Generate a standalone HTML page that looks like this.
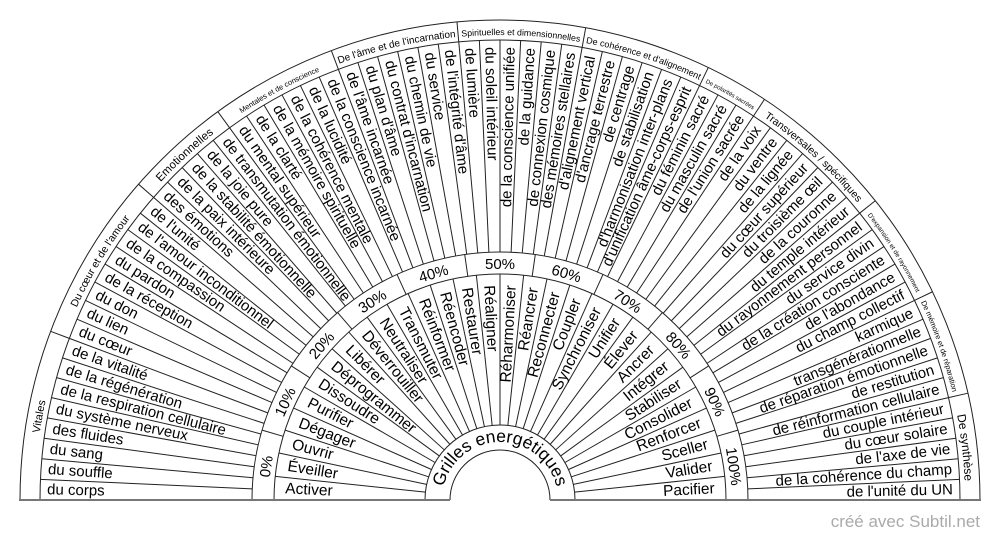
<!DOCTYPE html>
<html><head><meta charset="utf-8"><style>
html,body{margin:0;padding:0;background:#fff;}
svg{display:block;}
text{font-family:"Liberation Sans",Arial,sans-serif;fill:#000;}
</style></head><body>
<svg width="1000" height="540" viewBox="0 0 1000 540" xmlns="http://www.w3.org/2000/svg">
<defs>
<path id="c0" d="M35,500 A465,465 0 0 1 64.6,336.6"/>
<path id="c1" d="M64.6,336.6 A465,465 0 0 1 149.9,194.0"/>
<path id="c2" d="M149.9,194.0 A465,465 0 0 1 226.7,123.8"/>
<path id="c3" d="M226.7,123.8 A465,465 0 0 1 336.6,64.6"/>
<path id="c4" d="M336.6,64.6 A465,465 0 0 1 458.3,36.9"/>
<path id="c5" d="M458.3,36.9 A465,465 0 0 1 583.0,42.5"/>
<path id="c6" d="M583.0,42.5 A465,465 0 0 1 701.8,81.0"/>
<path id="c7" d="M701.8,81.0 A465,465 0 0 1 756.2,111.9"/>
<path id="c8" d="M756.2,111.9 A465,465 0 0 1 863.5,210.1"/>
<path id="c9" d="M863.5,210.1 A465,465 0 0 1 919.0,298.2"/>
<path id="c10" d="M919.0,298.2 A465,465 0 0 1 953.3,396.5"/>
<path id="c11" d="M953.3,396.5 A465,465 0 0 1 965,500"/>
<path id="cg" d="M442,500 A58,58 0 0 1 558,500"/>
</defs>
<g fill="none" stroke="#222" stroke-width="1">
<path d="M20,500 A480,480 0 0 1 980,500"/>
<path d="M40,500 A460,460 0 0 1 960,500"/>
<path d="M252,500 A248,248 0 0 1 748,500"/>
<path d="M274,500 A226,226 0 0 1 726,500"/>
<path d="M425,500 A75,75 0 0 1 575,500"/>
<path d="M450,500 A50,50 0 0 1 550,500"/>
</g>
<g stroke="#222" stroke-width="1">
<g>
<line x1="20" y1="500" x2="40" y2="500" transform="rotate(20.571 500 500)"/>
<line x1="20" y1="500" x2="40" y2="500" transform="rotate(41.143 500 500)"/>
<line x1="20" y1="500" x2="40" y2="500" transform="rotate(54 500 500)"/>
<line x1="20" y1="500" x2="40" y2="500" transform="rotate(69.429 500 500)"/>
<line x1="20" y1="500" x2="40" y2="500" transform="rotate(84.857 500 500)"/>
<line x1="20" y1="500" x2="40" y2="500" transform="rotate(100.286 500 500)"/>
<line x1="20" y1="500" x2="40" y2="500" transform="rotate(115.714 500 500)"/>
<line x1="20" y1="500" x2="40" y2="500" transform="rotate(123.429 500 500)"/>
<line x1="20" y1="500" x2="40" y2="500" transform="rotate(141.429 500 500)"/>
<line x1="20" y1="500" x2="40" y2="500" transform="rotate(154.286 500 500)"/>
<line x1="20" y1="500" x2="40" y2="500" transform="rotate(167.143 500 500)"/>
</g>
<g>
<line x1="40" y1="500" x2="252" y2="500" transform="rotate(2.571 500 500)"/>
<line x1="40" y1="500" x2="252" y2="500" transform="rotate(5.143 500 500)"/>
<line x1="40" y1="500" x2="252" y2="500" transform="rotate(7.714 500 500)"/>
<line x1="40" y1="500" x2="252" y2="500" transform="rotate(10.286 500 500)"/>
<line x1="40" y1="500" x2="252" y2="500" transform="rotate(12.857 500 500)"/>
<line x1="40" y1="500" x2="252" y2="500" transform="rotate(15.429 500 500)"/>
<line x1="40" y1="500" x2="252" y2="500" transform="rotate(18 500 500)"/>
<line x1="40" y1="500" x2="252" y2="500" transform="rotate(20.571 500 500)"/>
<line x1="40" y1="500" x2="252" y2="500" transform="rotate(23.143 500 500)"/>
<line x1="40" y1="500" x2="252" y2="500" transform="rotate(25.714 500 500)"/>
<line x1="40" y1="500" x2="252" y2="500" transform="rotate(28.286 500 500)"/>
<line x1="40" y1="500" x2="252" y2="500" transform="rotate(30.857 500 500)"/>
<line x1="40" y1="500" x2="252" y2="500" transform="rotate(33.429 500 500)"/>
<line x1="40" y1="500" x2="252" y2="500" transform="rotate(36 500 500)"/>
<line x1="40" y1="500" x2="252" y2="500" transform="rotate(38.571 500 500)"/>
<line x1="40" y1="500" x2="252" y2="500" transform="rotate(41.143 500 500)"/>
<line x1="40" y1="500" x2="252" y2="500" transform="rotate(43.714 500 500)"/>
<line x1="40" y1="500" x2="252" y2="500" transform="rotate(46.286 500 500)"/>
<line x1="40" y1="500" x2="252" y2="500" transform="rotate(48.857 500 500)"/>
<line x1="40" y1="500" x2="252" y2="500" transform="rotate(51.429 500 500)"/>
<line x1="40" y1="500" x2="252" y2="500" transform="rotate(54 500 500)"/>
<line x1="40" y1="500" x2="252" y2="500" transform="rotate(56.571 500 500)"/>
<line x1="40" y1="500" x2="252" y2="500" transform="rotate(59.143 500 500)"/>
<line x1="40" y1="500" x2="252" y2="500" transform="rotate(61.714 500 500)"/>
<line x1="40" y1="500" x2="252" y2="500" transform="rotate(64.286 500 500)"/>
<line x1="40" y1="500" x2="252" y2="500" transform="rotate(66.857 500 500)"/>
<line x1="40" y1="500" x2="252" y2="500" transform="rotate(69.429 500 500)"/>
<line x1="40" y1="500" x2="252" y2="500" transform="rotate(72 500 500)"/>
<line x1="40" y1="500" x2="252" y2="500" transform="rotate(74.571 500 500)"/>
<line x1="40" y1="500" x2="252" y2="500" transform="rotate(77.143 500 500)"/>
<line x1="40" y1="500" x2="252" y2="500" transform="rotate(79.714 500 500)"/>
<line x1="40" y1="500" x2="252" y2="500" transform="rotate(82.286 500 500)"/>
<line x1="40" y1="500" x2="252" y2="500" transform="rotate(84.857 500 500)"/>
<line x1="40" y1="500" x2="252" y2="500" transform="rotate(87.429 500 500)"/>
<line x1="40" y1="500" x2="252" y2="500" transform="rotate(90 500 500)"/>
<line x1="40" y1="500" x2="252" y2="500" transform="rotate(92.571 500 500)"/>
<line x1="40" y1="500" x2="252" y2="500" transform="rotate(95.143 500 500)"/>
<line x1="40" y1="500" x2="252" y2="500" transform="rotate(97.714 500 500)"/>
<line x1="40" y1="500" x2="252" y2="500" transform="rotate(100.286 500 500)"/>
<line x1="40" y1="500" x2="252" y2="500" transform="rotate(102.857 500 500)"/>
<line x1="40" y1="500" x2="252" y2="500" transform="rotate(105.429 500 500)"/>
<line x1="40" y1="500" x2="252" y2="500" transform="rotate(108 500 500)"/>
<line x1="40" y1="500" x2="252" y2="500" transform="rotate(110.571 500 500)"/>
<line x1="40" y1="500" x2="252" y2="500" transform="rotate(113.143 500 500)"/>
<line x1="40" y1="500" x2="252" y2="500" transform="rotate(115.714 500 500)"/>
<line x1="40" y1="500" x2="252" y2="500" transform="rotate(118.286 500 500)"/>
<line x1="40" y1="500" x2="252" y2="500" transform="rotate(120.857 500 500)"/>
<line x1="40" y1="500" x2="252" y2="500" transform="rotate(123.429 500 500)"/>
<line x1="40" y1="500" x2="252" y2="500" transform="rotate(126 500 500)"/>
<line x1="40" y1="500" x2="252" y2="500" transform="rotate(128.571 500 500)"/>
<line x1="40" y1="500" x2="252" y2="500" transform="rotate(131.143 500 500)"/>
<line x1="40" y1="500" x2="252" y2="500" transform="rotate(133.714 500 500)"/>
<line x1="40" y1="500" x2="252" y2="500" transform="rotate(136.286 500 500)"/>
<line x1="40" y1="500" x2="252" y2="500" transform="rotate(138.857 500 500)"/>
<line x1="40" y1="500" x2="252" y2="500" transform="rotate(141.429 500 500)"/>
<line x1="40" y1="500" x2="252" y2="500" transform="rotate(144 500 500)"/>
<line x1="40" y1="500" x2="252" y2="500" transform="rotate(146.571 500 500)"/>
<line x1="40" y1="500" x2="252" y2="500" transform="rotate(149.143 500 500)"/>
<line x1="40" y1="500" x2="252" y2="500" transform="rotate(151.714 500 500)"/>
<line x1="40" y1="500" x2="252" y2="500" transform="rotate(154.286 500 500)"/>
<line x1="40" y1="500" x2="252" y2="500" transform="rotate(156.857 500 500)"/>
<line x1="40" y1="500" x2="252" y2="500" transform="rotate(159.429 500 500)"/>
<line x1="40" y1="500" x2="252" y2="500" transform="rotate(162 500 500)"/>
<line x1="40" y1="500" x2="252" y2="500" transform="rotate(164.571 500 500)"/>
<line x1="40" y1="500" x2="252" y2="500" transform="rotate(167.143 500 500)"/>
<line x1="40" y1="500" x2="252" y2="500" transform="rotate(169.714 500 500)"/>
<line x1="40" y1="500" x2="252" y2="500" transform="rotate(172.286 500 500)"/>
<line x1="40" y1="500" x2="252" y2="500" transform="rotate(174.857 500 500)"/>
<line x1="40" y1="500" x2="252" y2="500" transform="rotate(177.429 500 500)"/>
</g>
<g>
<line x1="252" y1="500" x2="274" y2="500" transform="rotate(16.364 500 500)"/>
<line x1="252" y1="500" x2="274" y2="500" transform="rotate(32.727 500 500)"/>
<line x1="252" y1="500" x2="274" y2="500" transform="rotate(49.091 500 500)"/>
<line x1="252" y1="500" x2="274" y2="500" transform="rotate(65.455 500 500)"/>
<line x1="252" y1="500" x2="274" y2="500" transform="rotate(81.818 500 500)"/>
<line x1="252" y1="500" x2="274" y2="500" transform="rotate(98.182 500 500)"/>
<line x1="252" y1="500" x2="274" y2="500" transform="rotate(114.545 500 500)"/>
<line x1="252" y1="500" x2="274" y2="500" transform="rotate(130.909 500 500)"/>
<line x1="252" y1="500" x2="274" y2="500" transform="rotate(147.273 500 500)"/>
<line x1="252" y1="500" x2="274" y2="500" transform="rotate(163.636 500 500)"/>
</g>
<g>
<line x1="274" y1="500" x2="425" y2="500" transform="rotate(6 500 500)"/>
<line x1="274" y1="500" x2="425" y2="500" transform="rotate(12 500 500)"/>
<line x1="274" y1="500" x2="425" y2="500" transform="rotate(18 500 500)"/>
<line x1="274" y1="500" x2="425" y2="500" transform="rotate(24 500 500)"/>
<line x1="274" y1="500" x2="425" y2="500" transform="rotate(30 500 500)"/>
<line x1="274" y1="500" x2="425" y2="500" transform="rotate(36 500 500)"/>
<line x1="274" y1="500" x2="425" y2="500" transform="rotate(42 500 500)"/>
<line x1="274" y1="500" x2="425" y2="500" transform="rotate(48 500 500)"/>
<line x1="274" y1="500" x2="425" y2="500" transform="rotate(54 500 500)"/>
<line x1="274" y1="500" x2="425" y2="500" transform="rotate(60 500 500)"/>
<line x1="274" y1="500" x2="425" y2="500" transform="rotate(66 500 500)"/>
<line x1="274" y1="500" x2="425" y2="500" transform="rotate(72 500 500)"/>
<line x1="274" y1="500" x2="425" y2="500" transform="rotate(78 500 500)"/>
<line x1="274" y1="500" x2="425" y2="500" transform="rotate(84 500 500)"/>
<line x1="274" y1="500" x2="425" y2="500" transform="rotate(90 500 500)"/>
<line x1="274" y1="500" x2="425" y2="500" transform="rotate(96 500 500)"/>
<line x1="274" y1="500" x2="425" y2="500" transform="rotate(102 500 500)"/>
<line x1="274" y1="500" x2="425" y2="500" transform="rotate(108 500 500)"/>
<line x1="274" y1="500" x2="425" y2="500" transform="rotate(114 500 500)"/>
<line x1="274" y1="500" x2="425" y2="500" transform="rotate(120 500 500)"/>
<line x1="274" y1="500" x2="425" y2="500" transform="rotate(126 500 500)"/>
<line x1="274" y1="500" x2="425" y2="500" transform="rotate(132 500 500)"/>
<line x1="274" y1="500" x2="425" y2="500" transform="rotate(138 500 500)"/>
<line x1="274" y1="500" x2="425" y2="500" transform="rotate(144 500 500)"/>
<line x1="274" y1="500" x2="425" y2="500" transform="rotate(150 500 500)"/>
<line x1="274" y1="500" x2="425" y2="500" transform="rotate(156 500 500)"/>
<line x1="274" y1="500" x2="425" y2="500" transform="rotate(162 500 500)"/>
<line x1="274" y1="500" x2="425" y2="500" transform="rotate(168 500 500)"/>
<line x1="274" y1="500" x2="425" y2="500" transform="rotate(174 500 500)"/>
</g>
</g>
<line x1="19" y1="500" x2="450" y2="500" stroke="#777" stroke-width="2"/>
<line x1="550" y1="500" x2="981" y2="500" stroke="#777" stroke-width="2"/>

<g>
<text font-size="11"><textPath href="#c0" startOffset="50%" text-anchor="middle">Vitales</textPath></text>
<text font-size="10.5"><textPath href="#c1" startOffset="50%" text-anchor="middle">Du cœur et de l'amour</textPath></text>
<text font-size="11.5"><textPath href="#c2" startOffset="50%" text-anchor="middle">Emotionnelles</textPath></text>
<text font-size="7.5"><textPath href="#c3" startOffset="50%" text-anchor="middle">Mentales et de conscience</textPath></text>
<text font-size="10"><textPath href="#c4" startOffset="50%" text-anchor="middle">De l'âme et de l'incarnation</textPath></text>
<text font-size="8.8"><textPath href="#c5" startOffset="50%" text-anchor="middle">Spirituelles et dimensionnelles</textPath></text>
<text font-size="9"><textPath href="#c6" startOffset="50%" text-anchor="middle">De cohérence et d'alignement</textPath></text>
<text font-size="6"><textPath href="#c7" startOffset="50%" text-anchor="middle">De polarités sacrées</textPath></text>
<text font-size="10.5"><textPath href="#c8" startOffset="50%" text-anchor="middle">Transversales / spécifiques</textPath></text>
<text font-size="6.5"><textPath href="#c9" startOffset="50%" text-anchor="middle">D'expansion et de rayonnement</textPath></text>
<text font-size="7.5"><textPath href="#c10" startOffset="50%" text-anchor="middle">De mémoire et de réparation</textPath></text>
<text font-size="12"><textPath href="#c11" startOffset="50%" text-anchor="middle">De synthèse</textPath></text>
</g>

<g font-size="15" dominant-baseline="central">
<text x="47" y="500" transform="rotate(1.29 500 500)">du corps</text>
<text x="47" y="500" transform="rotate(3.86 500 500)">du souffle</text>
<text x="47" y="500" transform="rotate(6.43 500 500)">du sang</text>
<text x="47" y="500" transform="rotate(9.00 500 500)">des fluides</text>
<text x="47" y="500" transform="rotate(11.57 500 500)">du système nerveux</text>
<text x="47" y="500" transform="rotate(14.14 500 500)">de la respiration cellulaire</text>
<text x="47" y="500" transform="rotate(16.71 500 500)">de la régénération</text>
<text x="47" y="500" transform="rotate(19.29 500 500)">de la vitalité</text>
<text x="47" y="500" transform="rotate(21.86 500 500)">du cœur</text>
<text x="47" y="500" transform="rotate(24.43 500 500)">du lien</text>
<text x="47" y="500" transform="rotate(27.00 500 500)">du don</text>
<text x="47" y="500" transform="rotate(29.57 500 500)">de la réception</text>
<text x="47" y="500" transform="rotate(32.14 500 500)">du pardon</text>
<text x="47" y="500" transform="rotate(34.71 500 500)">de la compassion</text>
<text x="47" y="500" transform="rotate(37.29 500 500)">de l'amour inconditionnel</text>
<text x="47" y="500" transform="rotate(39.86 500 500)">de l'unité</text>
<text x="47" y="500" transform="rotate(42.43 500 500)">des émotions</text>
<text x="47" y="500" transform="rotate(45.00 500 500)">de la paix intérieure</text>
<text x="47" y="500" transform="rotate(47.57 500 500)">de la stabilité émotionnelle</text>
<text x="47" y="500" transform="rotate(50.14 500 500)">de la joie pure</text>
<text x="47" y="500" transform="rotate(52.71 500 500)">de transmutation émotionnelle</text>
<text x="47" y="500" transform="rotate(55.29 500 500)">du mental supérieur</text>
<text x="47" y="500" transform="rotate(57.86 500 500)">de la clarté</text>
<text x="47" y="500" transform="rotate(60.43 500 500)">de la mémoire spirituelle</text>
<text x="47" y="500" transform="rotate(63.00 500 500)">de la cohérence mentale</text>
<text x="47" y="500" transform="rotate(65.57 500 500)">de la lucidité</text>
<text x="47" y="500" transform="rotate(68.14 500 500)">de la conscience incarnée</text>
<text x="47" y="500" transform="rotate(70.71 500 500)">de l'âme incarnée</text>
<text x="47" y="500" transform="rotate(73.29 500 500)">du plan d'âme</text>
<text x="47" y="500" transform="rotate(75.86 500 500)">du contrat d'incarnation</text>
<text x="47" y="500" transform="rotate(78.43 500 500)">du chemin de vie</text>
<text x="47" y="500" transform="rotate(81.00 500 500)">du service</text>
<text x="47" y="500" transform="rotate(83.57 500 500)">de l'intégrité d'âme</text>
<text x="47" y="500" transform="rotate(86.14 500 500)">de lumière</text>
<text x="47" y="500" transform="rotate(88.71 500 500)">du soleil intérieur</text>
<g text-anchor="end">
<text x="953" y="500" transform="rotate(-88.71 500 500)">de la conscience unifiée</text>
<text x="953" y="500" transform="rotate(-86.14 500 500)">de la guidance</text>
<text x="953" y="500" transform="rotate(-83.57 500 500)">de connexion cosmique</text>
<text x="953" y="500" transform="rotate(-81.00 500 500)">des mémoires stellaires</text>
<text x="953" y="500" transform="rotate(-78.43 500 500)">d'alignement vertical</text>
<text x="953" y="500" transform="rotate(-75.86 500 500)">d'ancrage terrestre</text>
<text x="953" y="500" transform="rotate(-73.29 500 500)">de centrage</text>
<text x="953" y="500" transform="rotate(-70.71 500 500)">de stabilisation</text>
<text x="953" y="500" transform="rotate(-68.14 500 500)">d'harmonisation inter-plans</text>
<text x="953" y="500" transform="rotate(-65.57 500 500)">d'unification âme-corps-esprit</text>
<text x="953" y="500" transform="rotate(-63.00 500 500)">du féminin sacré</text>
<text x="953" y="500" transform="rotate(-60.43 500 500)">du masculin sacré</text>
<text x="953" y="500" transform="rotate(-57.86 500 500)">de l'union sacrée</text>
<text x="953" y="500" transform="rotate(-55.29 500 500)">de la voix</text>
<text x="953" y="500" transform="rotate(-52.71 500 500)">du ventre</text>
<text x="953" y="500" transform="rotate(-50.14 500 500)">de la lignée</text>
<text x="953" y="500" transform="rotate(-47.57 500 500)">du cœur supérieur</text>
<text x="953" y="500" transform="rotate(-45.00 500 500)">du troisième œil</text>
<text x="953" y="500" transform="rotate(-42.43 500 500)">de la couronne</text>
<text x="953" y="500" transform="rotate(-39.86 500 500)">du temple intérieur</text>
<text x="953" y="500" transform="rotate(-37.29 500 500)">du rayonnement personnel</text>
<text x="953" y="500" transform="rotate(-34.71 500 500)">du service divin</text>
<text x="953" y="500" transform="rotate(-32.14 500 500)">de la création consciente</text>
<text x="953" y="500" transform="rotate(-29.57 500 500)">de l'abondance</text>
<text x="953" y="500" transform="rotate(-27.00 500 500)">du champ collectif</text>
<text x="953" y="500" transform="rotate(-24.43 500 500)">karmique</text>
<text x="953" y="500" transform="rotate(-21.86 500 500)">transgénérationnelle</text>
<text x="953" y="500" transform="rotate(-19.29 500 500)">de réparation émotionnelle</text>
<text x="953" y="500" transform="rotate(-16.71 500 500)">de restitution</text>
<text x="953" y="500" transform="rotate(-14.14 500 500)">de réinformation cellulaire</text>
<text x="953" y="500" transform="rotate(-11.57 500 500)">du couple intérieur</text>
<text x="953" y="500" transform="rotate(-9.00 500 500)">du cœur solaire</text>
<text x="953" y="500" transform="rotate(-6.43 500 500)">de l'axe de vie</text>
<text x="953" y="500" transform="rotate(-3.86 500 500)">de la cohérence du champ</text>
<text x="953" y="500" transform="rotate(-1.29 500 500)">de l'unité du UN</text>
</g>
</g>

<g font-size="15" text-anchor="middle">
<text x="500" y="269" transform="rotate(-81.82 500 500)">0%</text>
<text x="500" y="269" transform="rotate(-65.45 500 500)">10%</text>
<text x="500" y="269" transform="rotate(-49.09 500 500)">20%</text>
<text x="500" y="269" transform="rotate(-32.73 500 500)">30%</text>
<text x="500" y="269" transform="rotate(-16.36 500 500)">40%</text>
<text x="500" y="269">50%</text>
<text x="500" y="269" transform="rotate(16.36 500 500)">60%</text>
<text x="500" y="269" transform="rotate(32.73 500 500)">70%</text>
<text x="500" y="269" transform="rotate(49.09 500 500)">80%</text>
<text x="500" y="269" transform="rotate(65.45 500 500)">90%</text>
<text x="500" y="269" transform="rotate(81.82 500 500)">100%</text>
</g>

<g font-size="15.5" dominant-baseline="central">
<text x="285" y="500" transform="rotate(3 500 500)">Activer</text>
<text x="285" y="500" transform="rotate(9 500 500)">Éveiller</text>
<text x="285" y="500" transform="rotate(15 500 500)">Ouvrir</text>
<text x="285" y="500" transform="rotate(21 500 500)">Dégager</text>
<text x="285" y="500" transform="rotate(27 500 500)">Purifier</text>
<text x="285" y="500" transform="rotate(33 500 500)">Dissoudre</text>
<text x="285" y="500" transform="rotate(39 500 500)">Déprogrammer</text>
<text x="285" y="500" transform="rotate(45 500 500)">Libérer</text>
<text x="285" y="500" transform="rotate(51 500 500)">Déverrouiller</text>
<text x="285" y="500" transform="rotate(57 500 500)">Neutraliser</text>
<text x="285" y="500" transform="rotate(63 500 500)">Transmuter</text>
<text x="285" y="500" transform="rotate(69 500 500)">Réinformer</text>
<text x="285" y="500" transform="rotate(75 500 500)">Réencoder</text>
<text x="285" y="500" transform="rotate(81 500 500)">Restaurer</text>
<text x="285" y="500" transform="rotate(87 500 500)">Réaligner</text>
<g text-anchor="end">
<text x="715" y="500" transform="rotate(-87 500 500)">Réharmoniser</text>
<text x="715" y="500" transform="rotate(-81 500 500)">Réancrer</text>
<text x="715" y="500" transform="rotate(-75 500 500)">Reconnecter</text>
<text x="715" y="500" transform="rotate(-69 500 500)">Coupler</text>
<text x="715" y="500" transform="rotate(-63 500 500)">Synchroniser</text>
<text x="715" y="500" transform="rotate(-57 500 500)">Unifier</text>
<text x="715" y="500" transform="rotate(-51 500 500)">Élever</text>
<text x="715" y="500" transform="rotate(-45 500 500)">Ancrer</text>
<text x="715" y="500" transform="rotate(-39 500 500)">Intégrer</text>
<text x="715" y="500" transform="rotate(-33 500 500)">Stabiliser</text>
<text x="715" y="500" transform="rotate(-27 500 500)">Consolider</text>
<text x="715" y="500" transform="rotate(-21 500 500)">Renforcer</text>
<text x="715" y="500" transform="rotate(-15 500 500)">Sceller</text>
<text x="715" y="500" transform="rotate(-9 500 500)">Valider</text>
<text x="715" y="500" transform="rotate(-3 500 500)">Pacifier</text>
</g>
</g>

<text font-size="17.5"><textPath href="#cg" startOffset="50%" text-anchor="middle">Grilles energétiques</textPath></text>

<text x="980" y="527" font-size="17" text-anchor="end" style="fill:#aaa">créé avec Subtil.net</text>
</svg>
</body></html>
